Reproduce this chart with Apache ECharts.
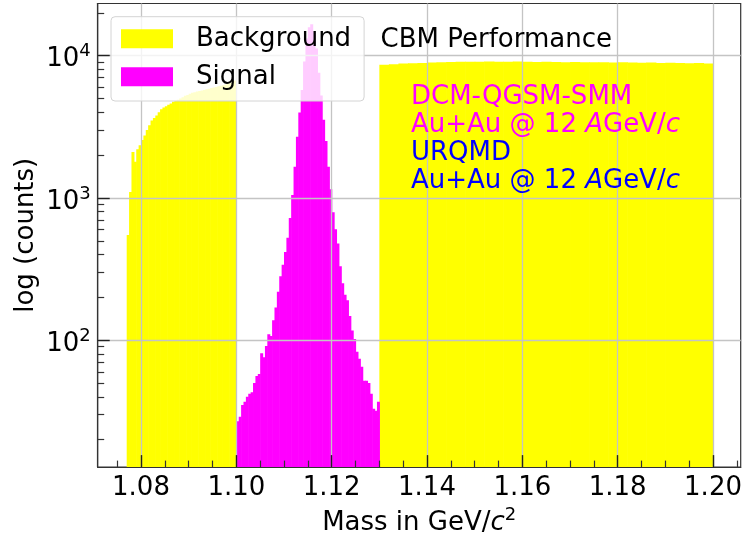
<!DOCTYPE html>
<html><head><meta charset="utf-8">
<script src="https://cdn.jsdelivr.net/npm/echarts@6/dist/echarts.min.js"></script>
<style>html,body{margin:0;padding:0;background:#fff}#c{width:745px;height:541px}</style>
</head><body><div id="c"></div>
<script>
// ---- data ----
const signalStart = 1.100, signalBin = 0.0005;
const signalCounts = [27, 29, 35, 37, 40, 42, 43, 50, 56, 58,
  81, 76, 91, 110, 107, 138, 170, 219, 282, 339,
  417, 525, 724, 1047, 1660, 2690, 3980, 5750, 9120, 13180,
  15850, 16600, 14790, 11220, 7590, 5250, 3550, 2510, 1660, 1150,
  794, 603, 479, 331, 251, 209, 191, 148, 117, 102,
  83, 74, 65, 52, 52, 50, 42, 33, 32, 37];
const bgLeftStart = 1.077, bgLeftBin = 0.0005;
const bgLeftCounts = [550, 1100, 2100, 1800, 2200, 2350, 2550, 2750, 3000, 3250,
  3500, 3650, 3800, 4000, 4200, 4330, 4420, 4520, 4620, 4750,
  4830, 4900, 5000, 5100, 5220, 5300, 5400, 5480, 5540, 5600,
  5650, 5700, 5750, 5800, 5860, 5920, 5980, 6030, 6090, 6150,
  6200, 6270, 6350, 6450, 6550, 6700];
const bgRightStart = 1.130, bgRightBin = 0.002;
const bgRightCounts = [8650, 8720, 8800, 8850, 8900, 8950, 8980, 9020, 9050, 9080,
  9060, 9100, 9080, 9050, 9090, 9060, 9040, 9070, 9030, 9010,
  9040, 9000, 8980, 9010, 8960, 8990, 8950, 8930, 8960, 8900,
  8920, 8880, 8850, 8870, 8820];
const xMajorTicks = [1.08, 1.10, 1.12, 1.14, 1.16, 1.18, 1.20];
const xMinorTicks = [1.075, 1.085, 1.09, 1.095, 1.105, 1.11, 1.115, 1.125, 1.13, 1.135,
  1.145, 1.15, 1.155, 1.165, 1.17, 1.175, 1.185, 1.19, 1.195, 1.205];
const yMajorTicks = [100, 1000, 10000];
const yMinorTicks = [20, 30, 40, 50, 60, 70, 80, 90, 200, 300, 400, 500, 600, 700, 800, 900,
  2000, 3000, 4000, 5000, 6000, 7000, 8000, 9000, 20000];
const xMin = 1.070916, xMax = 1.205806;
const yMin = 12.83, yMax = 23270;

// bins as [left edge, right edge, count]
function histBins(start, bin, counts) {
  return counts.map((c, i) => [Number((start + bin * i).toFixed(6)), Number((start + bin * (i + 1)).toFixed(6)), c]);
}

const FONT = 'DejaVu Sans';
const FS = 26;
const chart = echarts.init(document.getElementById('c'), null, {renderer: 'canvas'});
const histSeries = (name, data, color) => ({
  type: 'custom', name: name, data: data, itemStyle: {color: color}, z: 2, clip: true,
  encode: {x: [0, 1], y: 2},
  renderItem: function (params, api) {
    const p0 = api.coord([api.value(0), api.value(2)]);
    const p1 = api.coord([api.value(1), yMin]);
    return {type: 'rect', shape: {x: p0[0], y: p0[1], width: p1[0] - p0[0] + 0.6, height: p1[1] - p0[1]},
            style: {fill: color}};
  }
});

const option = {
  animation: false,
  backgroundColor: '#fff',
  textStyle: {fontFamily: FONT},
  grid: {left: 97.7, right: 4.3, top: 3.5, bottom: 65, show: true, borderColor: '#333', borderWidth: 1.2},
  legend: {
    orient: 'vertical', left: 111, top: 16.7, icon: 'rect', itemWidth: 52, itemHeight: 19, itemGap: 12,
    padding: [9.1, 13, 11.2, 10], backgroundColor: 'rgba(255,255,255,0.8)', borderColor: '#d4d4d4',
    borderWidth: 1, borderRadius: 4,
    textStyle: {fontSize: FS, color: '#000', fontFamily: FONT, padding: [0, 0, 0, 18]},
    data: [{name: 'Background', itemStyle: {color: '#ffff00'}}, {name: 'Signal', itemStyle: {color: '#ff00ff'}}]
  },
  title: [
    {text: 'CBM Performance', left: 380.5, top: 27.5, padding: 0,
     textStyle: {fontSize: FS, fontWeight: 'normal', color: '#000', fontFamily: FONT}},
    {text: 'DCM-QGSM-SMM\nAu+Au @ 12 {i|A}GeV/{i|c}', left: 411, top: 83, padding: 0,
     textStyle: {fontSize: FS, fontWeight: 'normal', color: '#ff00ff', lineHeight: 28, fontFamily: FONT,
       rich: {i: {fontStyle: 'italic', fontSize: FS, color: '#ff00ff', lineHeight: 28, fontFamily: FONT}}}},
    {text: 'URQMD\nAu+Au @ 12 {i|A}GeV/{i|c}', left: 411, top: 139, padding: 0,
     textStyle: {fontSize: FS, fontWeight: 'normal', color: '#0000ff', lineHeight: 28, fontFamily: FONT,
       rich: {i: {fontStyle: 'italic', fontSize: FS, color: '#0000ff', lineHeight: 28, fontFamily: FONT}}}}
  ],
  xAxis: [
    {type: 'value', min: xMin, max: xMax, minInterval: 0.02, maxInterval: 0.02, z: 3,
     axisLine: {show: true, onZero: false, lineStyle: {color: '#333', width: 1.2}},
     axisTick: {show: true, inside: true, length: 12, customValues: xMajorTicks, lineStyle: {color: '#222', width: 1.4}},
     axisLabel: {customValues: xMajorTicks, formatter: v => v.toFixed(2), fontSize: FS, color: '#000', fontFamily: FONT, margin: 8},
     splitLine: {show: true, lineStyle: {color: '#c4c4c4', width: 1.3}},
     name: 'Mass in GeV/{i|c}{s|2}', nameLocation: 'middle', nameGap: 30,
     nameTextStyle: {fontSize: FS, color: '#000', fontFamily: FONT,
       rich: {i: {fontSize: FS, fontStyle: 'italic', color: '#000', fontFamily: FONT},
              s: {fontSize: 18, color: '#000', fontFamily: FONT, padding: [0, 0, 16, 0]}}}},
    {type: 'value', min: xMin, max: xMax, position: 'bottom', z: 3,
     axisLine: {show: false, onZero: false}, axisLabel: {show: false}, splitLine: {show: false},
     axisTick: {show: true, inside: true, length: 6.5, customValues: xMinorTicks, lineStyle: {color: '#333', width: 1.2}}}
  ],
  yAxis: [
    {type: 'log', logBase: 10, min: yMin, max: yMax, z: 3,
     axisLine: {show: true, lineStyle: {color: '#333', width: 1.2}},
     axisTick: {show: true, inside: true, length: 12, customValues: yMajorTicks, lineStyle: {color: '#222', width: 1.4}},
     axisLabel: {customValues: yMajorTicks, margin: 7, color: '#000', padding: [8, 0, 0, 0],
       formatter: v => '{b|10}{s|' + Math.round(Math.log10(v)) + '}',
       rich: {b: {fontSize: FS, color: '#000', fontFamily: FONT},
              s: {fontSize: 18, color: '#000', fontFamily: FONT, padding: [0, 0, 16, 0]}}},
     splitLine: {show: true, lineStyle: {color: '#c4c4c4', width: 1.3}},
     name: 'log (counts)', nameLocation: 'middle', nameGap: 58, nameMoveOverlap: false,
     nameTextStyle: {fontSize: FS, color: '#000', fontFamily: FONT}},
    {type: 'log', logBase: 10, min: yMin, max: yMax, position: 'left', z: 3,
     axisLine: {show: false}, axisLabel: {show: false}, splitLine: {show: false},
     axisTick: {show: true, inside: true, length: 6.5, customValues: yMinorTicks, lineStyle: {color: '#333', width: 1.2}}}
  ],
  series: [
    histSeries('Background', histBins(bgLeftStart, bgLeftBin, bgLeftCounts), '#ffff00'),
    histSeries('Background', histBins(bgRightStart, bgRightBin, bgRightCounts), '#ffff00'),
    histSeries('Signal', histBins(signalStart, signalBin, signalCounts), '#ff00ff')
  ]
};
chart.setOption(option);
</script></body></html>
